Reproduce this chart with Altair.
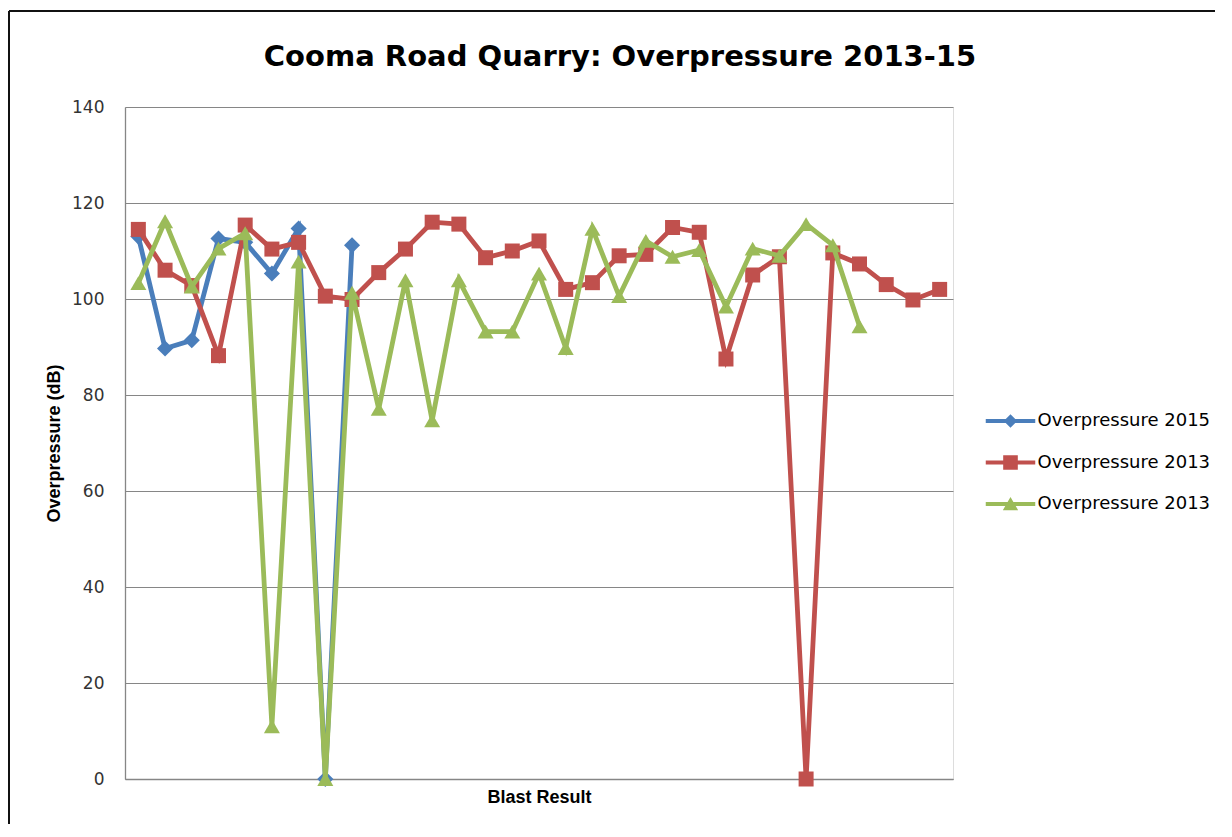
import altair as alt
import pandas as pd

# ---- data ----
blasts = list(range(1, 32))
op_2015 = [113.0, 89.7, 91.4, 112.6, 111.8, 105.3, 114.7, 0.0, 111.2]
op_2013a = [114.5, 106.0, 102.8, 88.2, 115.4, 110.4, 111.8, 100.6, 99.9, 105.5,
            110.4, 116.0, 115.6, 108.6, 110.0, 112.1, 102.0, 103.4, 109.0, 109.3,
            114.9, 113.9, 87.5, 105.0, 108.8, 0.0, 109.6, 107.3, 103.0, 99.8, 102.0]
op_2013b = [103.3, 116.2, 102.6, 110.5, 113.7, 11.0, 107.8, 0.0, 101.3, 77.1,
            103.9, 74.7, 103.9, 93.2, 93.2, 105.3, 89.8, 114.6, 100.6, 112.1,
            108.8, 110.2, 98.4, 110.5, 109.0, 115.6, 111.2, 94.3]

series_keys = ["s2015", "s2013a", "s2013b"]
series_labels = ["Overpressure 2015", "Overpressure 2013", "Overpressure 2013"]
series_values = [op_2015, op_2013a, op_2013b]
colors = ["#4A7EBB", "#C0504D", "#9BBB59"]
shapes = ["diamond", "square", "triangle-up"]
marker_sizes = [260, 225, 256]
y_ticks = [0, 20, 40, 60, 80, 100, 120, 140]

rows = []
for key, vals in zip(series_keys, series_values):
    for b, v in zip(blasts, vals):
        rows.append({"blast": b, "value": v, "series": key})
df = pd.DataFrame(rows)

# legend symbols: a line with the series marker on it
bar = "M-2.2,-0.18L2.2,-0.18L2.2,0.18L-2.2,0.18Z "
legend_paths = [
    bar + "M0,-0.6L0.6,0L0,0.6L-0.6,0Z",
    bar + "M-0.65,-0.65L0.65,-0.65L0.65,0.65L-0.65,0.65Z",
    bar + "M0,-0.62L0.68,0.55L-0.68,0.55Z",
]

label_expr = " : ".join(
    [f"datum.value == '{k}' ? '{l}'" for k, l in zip(series_keys[:-1], series_labels[:-1])]
) + f" : '{series_labels[-1]}'"

W, H = 828, 672

x_enc = alt.X("blast:O", axis=alt.Axis(labels=False, ticks=False, grid=False,
                                        title="Blast Result", titleFont="Liberation Sans",
                                        titleFontSize=18, titleFontWeight="bold",
                                        titleColor="#000000", titlePadding=9,
                                        domainColor="#868686", domainWidth=1.3))
y_enc = alt.Y("value:Q", scale=alt.Scale(domain=[0, 140], nice=False, zero=True),
              axis=alt.Axis(values=y_ticks, ticks=False, grid=True, gridColor="#868686",
                            gridWidth=1.2, domainColor="#868686", domainWidth=1.3,
                            labelFont="DejaVu Sans", labelFontSize=17, labelColor="#333333",
                            labelPadding=21, title="Overpressure (dB)",
                            titleFont="Liberation Sans", titleFontSize=18,
                            titleFontWeight="bold", titleColor="#000000", titlePadding=8))

base = alt.Chart(df)
layers = []

# chart-area frame (decoration of the picture's outer border)
frame_top = base.mark_rule(color="#111111", strokeWidth=2).encode(
    x=alt.value(-116), x2=alt.value(W + 262), y=alt.value(-96))
frame_left = base.mark_rule(color="#111111", strokeWidth=2).encode(
    x=alt.value(-116), y=alt.value(-96), y2=alt.value(H + 50))
layers += [frame_top, frame_left]

for key, col, shp, sz in zip(series_keys, colors, shapes, marker_sizes):
    sub = base.transform_filter(alt.datum.series == key)
    layers.append(sub.mark_line(color=col, strokeWidth=4.8).encode(x=x_enc, y=y_enc))
    layers.append(sub.mark_point(shape=shp, filled=True, color=col, size=sz, opacity=1)
                  .encode(x=x_enc, y=y_enc))

legend = alt.Legend(title=None, orient="none", legendX=874, legendY=302.5,
                    labelFont="DejaVu Sans", labelFontSize=18, labelColor="#000000",
                    labelLimit=0, symbolSize=506, symbolStrokeWidth=0, labelOffset=15.5,
                    rowPadding=20.5, padding=0, labelExpr=label_expr)

legend_layer = base.transform_filter("false").mark_point(filled=True, size=506, opacity=1).encode(
    x=x_enc, y=y_enc,
    color=alt.Color("series:N", scale=alt.Scale(domain=series_keys, range=colors), legend=legend),
    shape=alt.Shape("series:N", scale=alt.Scale(domain=series_keys, range=legend_paths), legend=legend),
)
layers.append(legend_layer)

chart = alt.layer(*layers).properties(
    width=W, height=H,
    title=alt.TitleParams("Cooma Road Quarry: Overpressure 2013-15", font="DejaVu Sans",
                          fontSize=29, fontWeight="bold", color="#000000",
                          anchor="middle", dx=81, offset=-61.5),
    autosize=alt.AutoSizeParams(type="none"),
    padding={"left": 117, "top": 99, "right": 263, "bottom": 45},
).configure_view(stroke=None).configure(background="#ffffff")

chart.save("out.html", embed_options={"renderer": "svg", "actions": False})
